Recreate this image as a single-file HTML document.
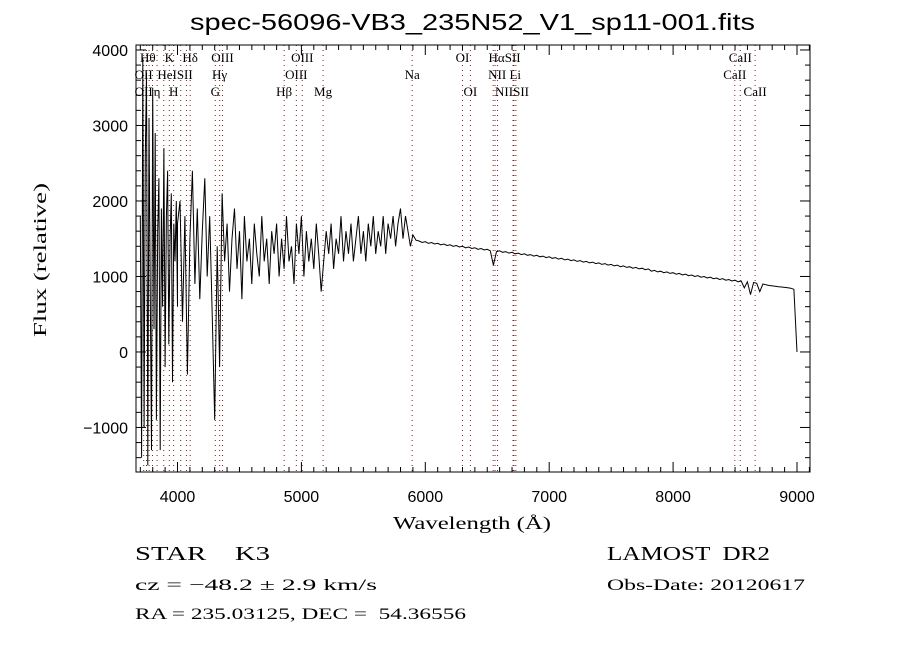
<!DOCTYPE html>
<html><head><meta charset="utf-8"><style>
body{margin:0;background:#fff;}
svg{display:block;}
text{font-family:"Liberation Sans",sans-serif;white-space:pre;}
.s{font-family:"Liberation Serif",serif;}
</style></head><body>
<svg id="c" width="900" height="650" xmlns="http://www.w3.org/2000/svg"></svg>
<script>
const xTicks=[4000,5000,6000,7000,8000,9000];
const yTicks=[-1000,0,1000,2000,3000,4000];
const seg1Start=3700, seg1Step=10;
const seg1Flux=[1800,-1400,3900,-1000,2600,3700,-1500,3100,900,-1300,3500,300,2900,-900,1600,2300,-1300,1900,600,2700,-200,1800,2400,100,1500,2100,-400,1700,1200,2000,600];
const seg2Start=4000, seg2Step=20;
const seg2Flux=[1700,2000,400,1800,-300,1500,2400,900,1900,700,1600,2300,1000,1800,500,-900,1400,-200,2100,1200,1700,800,1500,1900,1100,1600,700,1800,1200,1500,900,1700,1300,1000,1800,1200,1500,900,1600,1300,1700,1000,1500,1100,1800,1200,1400,900,1700,1300,1800,1000,1600,1200,1500,1100,1700,1300,800,1200,1600,1300,1700,1100,1500,1300,1800,1200,1600,1300,1700,1200,1500,1800,1300,1600,1200,1700,1400,1800,1300,1600,1400,1800,1300,1700,1500,1800,1400,1700,1900,1500,1800,1600,1400,1550];
const seg3Start=5925, seg3Step=25;
const seg3Flux=[1480,1470,1450,1460,1440,1450,1430,1440,1420,1430,1410,1420,1400,1410,1390,1400,1380,1390,1370,1380,1360,1370,1350,1360,1340,1150,1330,1340,1320,1330,1310,1320,1300,1310,1290,1300,1280,1290,1270,1280,1260,1270,1250,1260,1240,1250,1230,1240,1220,1230,1210,1220,1200,1210,1190,1200,1180,1190,1170,1180,1160,1170,1150,1160,1140,1150,1130,1140,1120,1130,1110,1120,1100,1110,1090,1100,1070,1080,1060,1070,1050,1060,1040,1050,1030,1040,1020,1030,1010,1020,1000,1010,990,1000,980,990,970,980,960,970,950,960,940,950,930,940,850,930,760,920,910,800,900,890,880,875,870,865,860,855,850,845,830,0];
const lineWl=[3727,3750,3771,3798,3835,3889,3934,3969,4026,4072,4102,4305,4340,4363,4861,4959,5007,5175,5894,6300,6364,6548,6563,6583,6708,6716,6731,8498,8542,8662];
const labels=[["Hθ",3760,0],["K",3934,0],["Hδ",4102,0],["OIII",4363,0],["OIII",5007,0],["OI",6300,0],["HαSII",6640,0],["CaII",8542,0],
["OII",3727,1],["HeISII",3980,1],["Hγ",4340,1],["OIII",4959,1],["Na",5894,1],["NII Li",6640,1],["CaII",8498,1],
["OII",3727,2],["η",3835,2],["H",3969,2],["G",4305,2],["Hβ",4861,2],["Mg",5175,2],["OI",6364,2],["NIISII",6700,2],["CaII",8662,2]];
const L=136,R=810,T=45,B=472,X0=3665,X1=9105,Y0=-1590,Y1=4066;
const sx=w=>L+(w-X0)/(X1-X0)*(R-L), sy=f=>B-(f-Y0)/(Y1-Y0)*(B-T);
const svg=document.getElementById('c');const NS='http://www.w3.org/2000/svg';
function mk(t,a,p){const e=document.createElementNS(NS,t);for(const k in a)e.setAttribute(k,a[k]);(p||svg).appendChild(e);return e;}
lineWl.forEach(w=>{const e=mk('line',{x1:sx(w),x2:sx(w),y1:T,y2:B,stroke:'#7a2020','stroke-width':1,'stroke-dasharray':'1,4'});

});
labels.forEach(l=>{const e=mk('text',{x:sx(l[1]),y:62+l[2]*17,'font-size':13,'text-anchor':'middle',class:'s'});e.textContent=l[0];

});
const pts=[];
seg1Flux.forEach((f,i)=>pts.push([seg1Start+i*seg1Step,f]));
seg2Flux.forEach((f,i)=>pts.push([seg2Start+i*seg2Step,f]));
seg3Flux.forEach((f,i)=>pts.push([seg3Start+i*seg3Step,f]));
const cp=mk('clipPath',{id:'pc'});mk('rect',{x:L,y:T,width:R-L,height:B-T},cp);
const sp=mk('path',{d:pts.map((p,i)=>(i?'L':'M')+sx(p[0]).toFixed(1)+','+sy(p[1]).toFixed(1)).join(''),fill:'none',stroke:'#000','stroke-width':1,'clip-path':'url(#pc)'});


const fr=mk('rect',{x:L,y:T,width:R-L,height:B-T,fill:'none',stroke:'#000','stroke-width':1});


for(let w=3700;w<=9100;w+=100){const maj=w%1000===0;const h=maj?10:5;
mk('line',{x1:sx(w),x2:sx(w),y1:B,y2:B-h,stroke:'#000'});mk('line',{x1:sx(w),x2:sx(w),y1:T,y2:T+h,stroke:'#000'});}
xTicks.forEach(v=>{const e=mk('text',{x:sx(v),y:B+30,'font-size':16,'text-anchor':'middle'});e.textContent=v;

});
for(let f=-1400;f<=4000;f+=200){const maj=f%1000===0;const h=maj?10:5;
mk('line',{x1:L,x2:L+h,y1:sy(f),y2:sy(f),stroke:'#000'});mk('line',{x1:R,x2:R-h,y1:sy(f),y2:sy(f),stroke:'#000'});}
yTicks.forEach(v=>{const e=mk('text',{x:L-8,y:sy(v)+6,'font-size':16,'text-anchor':'end'});e.textContent=v<0?'\u2212'+(-v):v;

});
function txt(s,x,y,fs,name,len,extra){const a=Object.assign({x:x,y:y,'font-size':fs},extra||{});if(len){a.textLength=len;a.lengthAdjust='spacingAndGlyphs';}const e=mk('text',a);e.textContent=s;

return e;}
txt('spec-56096-VB3_235N52_V1_sp11-001.fits',190,30,23,'chart-title',565);
txt('Wavelength (Å)',393,529,18,'x-axis-title',158,{class:'s'});
txt('Flux (relative)',0,0,18,'y-axis-title',154,{class:'s',transform:'translate(46,337) rotate(-90)'});
txt('STAR    K3',135,560,20,'object-class',135,{class:'s'});
txt('cz = −48.2 ± 2.9 km/s',135,590,16,'redshift-info',242,{class:'s'});
txt('RA = 235.03125, DEC =  54.36556',135,619,16,'coordinates',331,{class:'s'});
txt('LAMOST  DR2',607,560,20,'survey-name',163,{class:'s'});
txt('Obs-Date: 20120617',607,590,16,'obs-date',198,{class:'s'});
</script>
</body></html>
